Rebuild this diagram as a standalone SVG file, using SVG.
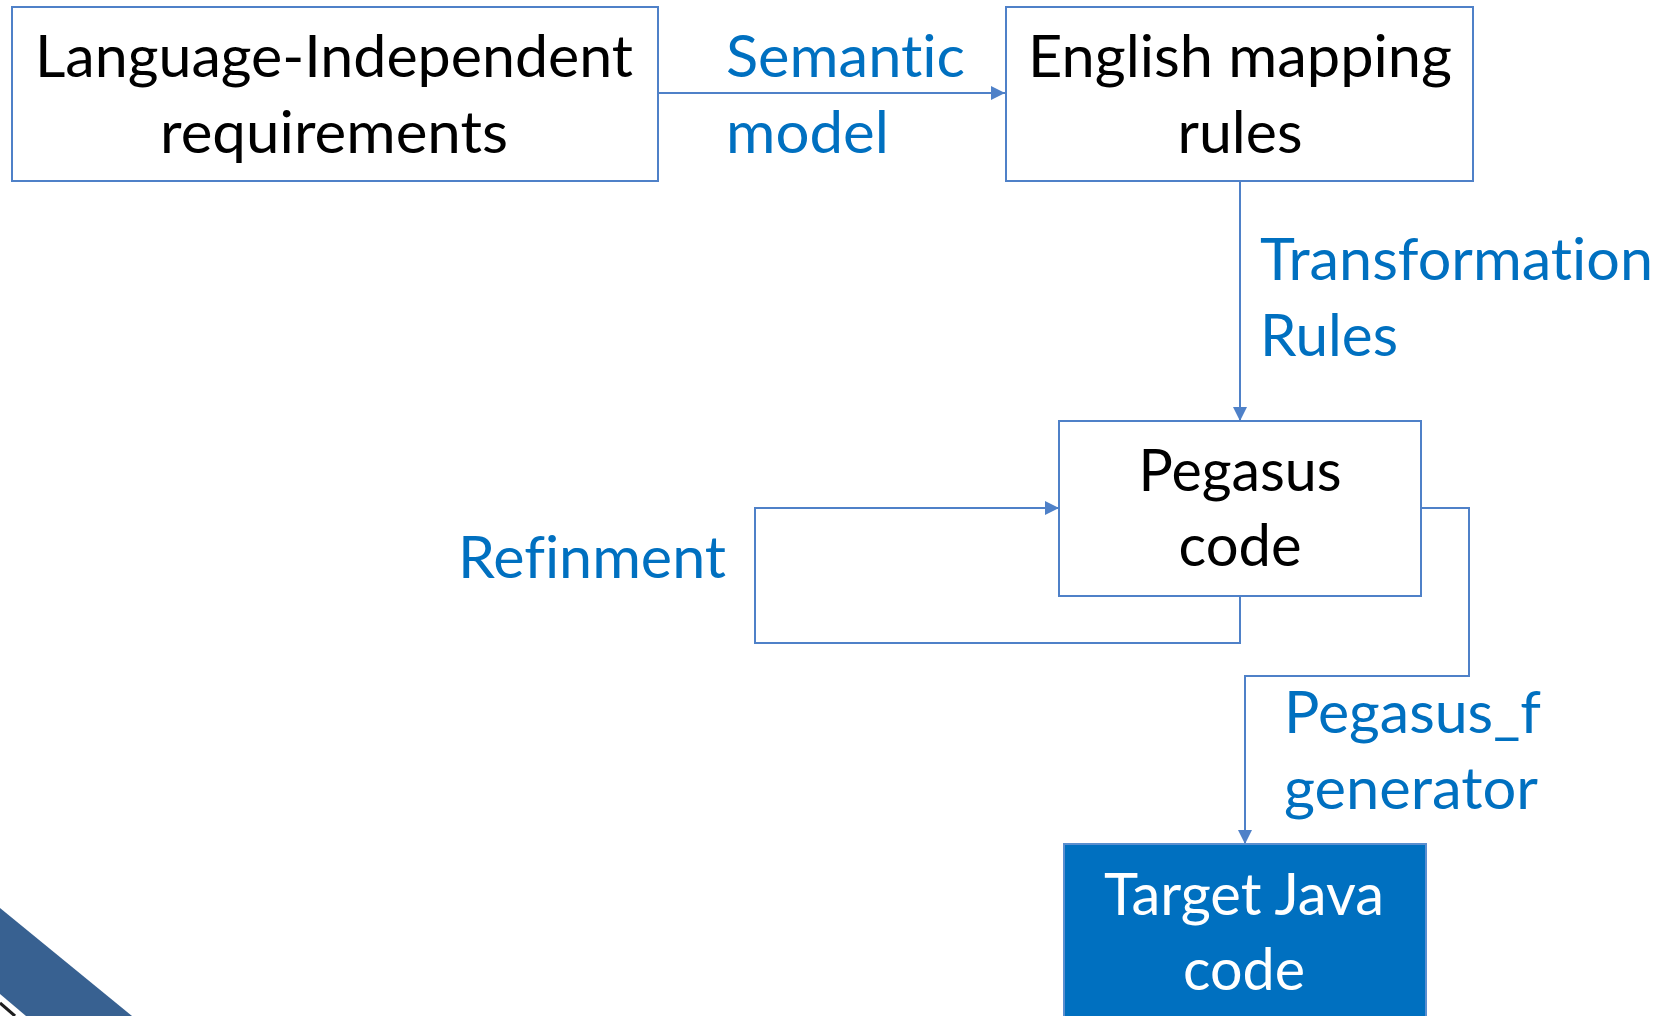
<svg xmlns="http://www.w3.org/2000/svg" width="1674" height="1016" viewBox="0 0 1674 1016">
  <style>
    text { font-variant-ligatures: none; font-feature-settings: "liga" 0, "clig" 0; }
    .box { fill: #ffffff; stroke: #4f81c8; stroke-width: 2; }
    .box-dark { fill: #0070c0; stroke: #5b8fd0; stroke-width: 2; }
    .node-text { font-family: Lato, "Liberation Sans", sans-serif; font-size: 58px; fill: #000000; text-anchor: middle; }
    .node-text-light { font-family: Lato, "Liberation Sans", sans-serif; font-size: 58px; fill: #ffffff; text-anchor: middle; }
    .label { font-family: Lato, "Liberation Sans", sans-serif; font-size: 58px; fill: #0070c0; }
    .wire { fill: none; stroke: #4f81c8; stroke-width: 2; }
  </style>
  <defs>
    <marker id="arrowBig" viewBox="0 0 10 10" refX="10" refY="5" markerWidth="14" markerHeight="14" markerUnits="userSpaceOnUse" orient="auto">
      <path d="M0,0 L10,5 L0,10 z" fill="#4f81c8"/>
    </marker>
  </defs>

  <rect width="1674" height="1016" fill="#ffffff"/>

  <!-- corner ribbon -->
  <g id="corner-ribbon">
    <polygon points="0,908 132,1016 26,1016 0,994" fill="#386191"/>
    <line x1="0" y1="998" x2="20" y2="1016" stroke="#ffffff" stroke-width="3"/>
    <line x1="0" y1="1003" x2="15" y2="1016" stroke="#1e1e1e" stroke-width="3"/>
  </g>

  <!-- connectors -->
  <g id="connectors">
    <path class="wire" d="M658,93 L1005,93" marker-end="url(#arrowBig)"/>
    <path class="wire" d="M1240,181 L1240,421" marker-end="url(#arrowBig)"/>
    <path class="wire" d="M1240,596 L1240,643 L755,643 L755,508 L1059,508" marker-end="url(#arrowBig)"/>
    <path class="wire" d="M1421,508 L1469,508 L1469,676 L1245,676 L1245,844" marker-end="url(#arrowBig)"/>
  </g>

  <!-- connector labels -->
  <g id="labels">
    <text class="label" x="726" y="77" textLength="239" lengthAdjust="spacingAndGlyphs">Semantic</text>
    <text class="label" x="726" y="153" textLength="163" lengthAdjust="spacingAndGlyphs">model</text>
    <text class="label" x="1260" y="280" textLength="393" lengthAdjust="spacingAndGlyphs">Transformation</text>
    <text class="label" x="1260" y="356" textLength="138" lengthAdjust="spacingAndGlyphs">Rules</text>
    <text class="label" x="458" y="578" textLength="268" lengthAdjust="spacingAndGlyphs">Refinment</text>
    <text class="label" x="1284" y="733" textLength="257" lengthAdjust="spacingAndGlyphs">Pegasus_f</text>
    <text class="label" x="1284" y="809" textLength="254" lengthAdjust="spacingAndGlyphs">generator</text>
  </g>

  <!-- nodes -->
  <g id="node-requirements">
    <rect class="box" x="12" y="7" width="646" height="174"/>
    <text class="node-text" x="334" y="77" textLength="598" lengthAdjust="spacingAndGlyphs">Language-Independent</text>
    <text class="node-text" x="334" y="153" textLength="348" lengthAdjust="spacingAndGlyphs">requirements</text>
  </g>

  <g id="node-mapping">
    <rect class="box" x="1006" y="7" width="467" height="174"/>
    <text class="node-text" x="1240" y="77" textLength="424" lengthAdjust="spacingAndGlyphs">English mapping</text>
    <text class="node-text" x="1240" y="153" textLength="125" lengthAdjust="spacingAndGlyphs">rules</text>
  </g>

  <g id="node-pegasus">
    <rect class="box" x="1059" y="421" width="362" height="175"/>
    <text class="node-text" x="1240" y="491" textLength="203" lengthAdjust="spacingAndGlyphs">Pegasus</text>
    <text class="node-text" x="1240" y="566" textLength="123" lengthAdjust="spacingAndGlyphs">code</text>
  </g>

  <g id="node-java">
    <rect class="box-dark" x="1064" y="844" width="362" height="190"/>
    <text class="node-text-light" x="1244" y="915" textLength="280" lengthAdjust="spacingAndGlyphs">Target Java</text>
    <text class="node-text-light" x="1244" y="990" textLength="122" lengthAdjust="spacingAndGlyphs">code</text>
  </g>
</svg>
